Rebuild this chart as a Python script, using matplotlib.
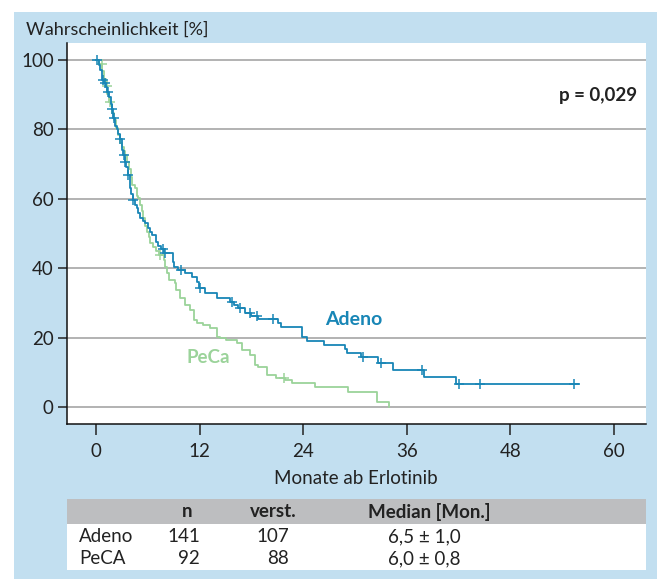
import numpy as np
import matplotlib
matplotlib.use("Agg")
import matplotlib.pyplot as plt
from matplotlib.patches import Rectangle

plt.rcParams['font.family'] = ['Lato', 'DejaVu Sans']

# Kaplan-Meier steps (months, survival % after the event)
adeno_t = [0, 0.3, 0.5, 0.7, 0.9, 1.1, 1.3, 1.5, 1.7, 1.8, 2.0, 2.2, 2.4, 2.6, 2.8,
           3.0, 3.1, 3.3, 3.5, 3.7, 3.9, 4.1, 4.3, 4.5, 4.7, 4.9, 5.1, 5.4, 5.7,
           6.0, 6.3, 6.5, 6.9, 7.2, 7.5, 7.9, 8.9, 9.0, 9.5, 10.3, 11.1, 11.7,
           11.9, 12.6, 14.0, 15.5, 16.0, 16.5, 17.3, 18.0, 18.8, 21.1, 21.4,
           23.8, 24.4, 26.4, 28.8, 29.1, 30.7, 32.7, 34.4, 38.0, 41.7, 55.9]
adeno_s = [100, 98.6, 97.1, 94.2, 93.5, 92.1, 90.7, 89.3, 87.2, 85.8, 83.4, 81.1,
           80.0, 78.6, 77.2, 74.1, 72.7, 70.6, 69.1, 66.9, 63.0, 61.5, 59.7, 58.3,
           57.3, 55.8, 54.4, 53.7, 53.0, 51.5, 50.4, 49.6, 47.6, 46.5, 45.4, 44.4,
           41.8, 40.3, 39.5, 38.5, 37.5, 36.1, 34.2, 32.8, 31.3, 30.3, 29.4, 28.4,
           27.0, 26.3, 25.5, 24.1, 23.0, 20.3, 19.1, 17.9, 16.6, 15.5, 14.3, 12.8,
           10.8, 8.6, 6.6, 6.6]
adeno_cens = [0.1, 0.8, 1.04, 1.4, 1.9, 2.1, 2.8, 3.2, 3.4, 3.7, 4.3, 7.8, 8.0,
              9.9, 12.05, 15.7, 16.7, 17.8, 18.6, 20.5, 30.9, 33.0, 37.8, 42.0,
              44.5, 55.4]

peca_t = [0, 0.4, 0.7, 0.9, 1.1, 1.3, 1.5, 1.7, 1.9, 2.1, 2.3, 2.6, 2.8, 3.0,
          3.2, 3.4, 3.6, 3.8, 4.0, 4.2, 4.5, 4.7, 4.9, 5.1, 5.3, 5.5, 5.7, 5.9,
          6.1, 6.3, 6.6, 6.9, 7.3, 7.9, 8.0, 8.2, 8.4, 9.2, 9.3, 9.7, 10.3, 10.9,
          11.3, 11.7, 12.4, 13.2, 14.0, 14.4, 15.1, 16.3, 16.9, 17.8, 18.4, 18.8,
          19.8, 20.8, 21.9, 22.7, 25.4, 29.2, 32.5, 33.9]
peca_s = [100, 98.9, 96.7, 94.6, 92.4, 90.2, 88.0, 87.0, 84.8, 82.6, 80.4, 78.3,
          76.1, 75.0, 73.9, 72.6, 70.7, 68.5, 66.3, 64.1, 63.0, 60.9, 60.1, 58.2,
          56.5, 54.4, 52.2, 50.5, 48.9, 47.2, 46.0, 44.9, 43.8, 42.4, 40.3, 38.5,
          36.6, 35.6, 33.7, 31.3, 29.4, 28.0, 25.1, 24.1, 23.6, 22.7, 20.3, 19.8,
          19.3, 18.3, 16.4, 15.0, 12.1, 11.6, 9.2, 8.3, 7.8, 7.0, 5.7, 4.3, 1.5, 0]
peca_cens = [0.66, 1.24, 1.6, 7.4, 21.8]

x_ticks = [0, 12, 24, 36, 48, 60]
y_ticks = [0, 20, 40, 60, 80, 100]

tab_cols = ["n", "verst.", "Median [Mon.]"]
tab_groups = ["Adeno", "PeCA"]
tab_n = ["141", "92"]
tab_dead = ["107", "88"]
tab_median = ["6,5 ± 1,0", "6,0 ± 0,8"]

blue = "#1886b6"
green = "#9bd39a"
bg = "#c2dff0"
txt = "#222222"


def surv_at(times, surv, t):
    # value of the step function right at time t
    idx = np.searchsorted(times, t, side="right") - 1
    return np.asarray(surv)[idx]


fig = plt.figure(figsize=(6.57, 5.79), dpi=100)
fig.patch.set_facecolor("white")
# blue panel behind everything
fig.patches.append(Rectangle((14 / 657, 0), 1, 1 - 12 / 579, transform=fig.transFigure,
                             facecolor=bg, edgecolor="none", zorder=-10))

ax = fig.add_axes([67 / 657, 1 - 424 / 579, 579 / 657, 381 / 579])
ax.set_facecolor("white")
ax.set_xlim(-3.36, 63.7)
ax.set_ylim(-4.9, 104.9)

for yv in y_ticks:
    ax.axhline(yv, color="#a6a6a6", lw=1.2, zorder=1)

ax.step(peca_t, peca_s, where="post", color=green, lw=1.3, zorder=3)
ax.plot(peca_cens, surv_at(peca_t, peca_s, peca_cens), ls="none", marker="+",
        ms=7, mew=1.1, color=green, zorder=3)
ax.step(adeno_t, adeno_s, where="post", color=blue, lw=1.3, zorder=4)
ax.plot(adeno_cens, surv_at(adeno_t, adeno_s, adeno_cens), ls="none", marker="+",
        ms=7, mew=1.1, color=blue, zorder=4)

ax.text(29.8, 25.3, "Adeno", color=blue, fontsize=14, fontweight="bold",
        ha="center", va="center")
ax.text(13.0, 14.3, "PeCa", color=green, fontsize=13.5, fontweight="bold",
        ha="center", va="center")
ax.text(0.984, 0.862, "p = 0,029", transform=ax.transAxes, fontsize=13.5,
        fontweight="bold", color=txt, ha="right", va="center")

ax.set_xticks(x_ticks)
ax.set_yticks(y_ticks)
ax.tick_params(axis="y", length=6.5, width=1.1, pad=3, labelsize=13.5, colors=txt)
ax.tick_params(axis="x", length=8, width=1.1, pad=6, labelsize=13.5, colors=txt)
for side in ["top", "right"]:
    ax.spines[side].set_visible(False)
for side in ["left", "bottom"]:
    ax.spines[side].set_linewidth(1.1)
    ax.spines[side].set_color("#111111")

fig.text(26 / 657, 1 - 30 / 579, "Wahrscheinlichkeit [%]", fontsize=13.1,
         color=txt, ha="left", va="center")
fig.text(356 / 657, 1 - 478 / 579, "Monate ab Erlotinib", fontsize=13.5,
         color=txt, ha="center", va="center")

# little table under the chart, drawn in pixel coordinates
tab = fig.add_axes([67 / 657, 1 - 570 / 579, 579 / 657, 71 / 579])
tab.set_xlim(67, 646)
tab.set_ylim(570, 499)
tab.axis("off")
tab.add_patch(Rectangle((67, 524), 579, 46, facecolor="white", edgecolor="none"))
tab.add_patch(Rectangle((67, 499), 579, 25, facecolor="#bdbec0", edgecolor="none"))

col_x = [187, 273, 429]
for cx, name in zip(col_x, tab_cols):
    tab.text(cx, 512, name, fontsize=13.5, fontweight="bold", color=txt,
             ha="center", va="center")
row_y = [537, 559]
for i, ry in enumerate(row_y):
    tab.text(79, ry, tab_groups[i], fontsize=13.5, color=txt, ha="left", va="center")
    tab.text(200, ry, tab_n[i], fontsize=13.5, color=txt, ha="right", va="center")
    tab.text(289, ry, tab_dead[i], fontsize=13.5, color=txt, ha="right", va="center")
    tab.text(424, ry, tab_median[i], fontsize=13.5, color=txt, ha="center", va="center")

fig.savefig("out.png", dpi=100)
